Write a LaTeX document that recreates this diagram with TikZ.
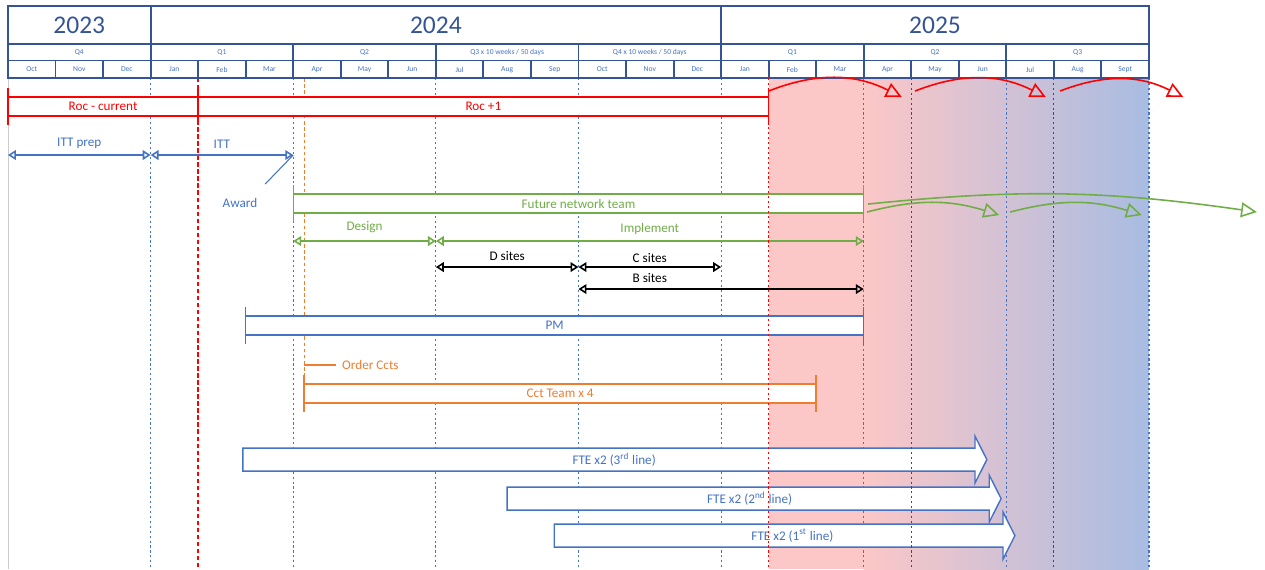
\documentclass[tikz,border=0pt]{standalone}
\usepackage{fontspec}
\setmainfont{Carlito}
\usepackage{xcolor}
\usepackage{tikz}
\usetikzlibrary{arrows.meta}

\definecolor{hdrblue}{RGB}{52,84,150}
\definecolor{tblue}{RGB}{68,114,196}
\definecolor{rocred}{RGB}{255,0,0}
\definecolor{fntgreen}{RGB}{112,173,71}
\definecolor{cctorange}{RGB}{237,125,49}
\definecolor{shpink}{RGB}{252,199,199}
\definecolor{shblue}{RGB}{168,188,226}

\begin{document}
\begin{tikzpicture}[x=0.9508cm,y=-0.02cm,
        lbl/.style={font=\fontsize{7.5}{9}\selectfont},
        hdrtxt/.style={font=\fontsize{4.3}{5}\selectfont,text=tblue},
        hdr/.style={draw=hdrblue,line width=1.1pt},
        vline/.style={line width=0.6pt,dash pattern=on 1.2pt off 1.6pt},
        bar/.style={line width=0.8pt,fill=white},
        span/.style={line width=0.9pt,{Triangle[open,length=4.5pt,width=5.5pt]}-{Triangle[open,length=4.5pt,width=5.5pt]}},
        roll/.style={line width=0.9pt,-{Triangle[open,length=9pt,width=8.5pt]}}]
        \useasboundingbox (-0.168,0) rectangle (26.441,569);

        \fill[shpink] (16,78) rectangle (18,569);
        \shade[left color=shpink,right color=shblue] (18,78) rectangle (24,569);
        \draw[black!20] (0,78) -- (0,569);
        \foreach \m in {3,6,...,24}
            \draw[vline,tblue] (\m,78) -- (\m,569);
        \draw[vline,cctorange,dash pattern=on 2pt off 1.5pt] (6.23,78) -- (6.23,375);
        \draw[rocred,line width=0.9pt,dash pattern=on 2.5pt off 1.5pt] (4,78) -- (4,569);

        % header
        \foreach \a/\b/\yr in {0/3/2023,3/15/2024,15/24/2025}{
            \draw[hdr] (\a,6) rectangle (\b,44);
            \node[font=\fontsize{14.5}{17}\selectfont,text=hdrblue] (y\yr) at ({(\a+\b)/2},25.5) {\yr};
        }
        \foreach \q [count=\i from 0] in {Q4,Q1,Q2,Q3 x 10 weeks / 50 days,Q4 x 10 weeks / 50 days,Q1,Q2,Q3}{
            \draw[hdr] (3*\i,44) rectangle (3*\i+3,60.5);
            \node[hdrtxt] (q\i) at (3*\i+1.5,52.5) {\q};
        }
        \foreach \mo [count=\i from 0] in {Oct,Nov,Dec,Jan,Feb,Mar,Apr,May,Jun,Jul,Aug,Sep,Oct,Nov,Dec,Jan,Feb,Mar,Apr,May,Jun,Jul,Aug,Sept}{
            \draw[hdr] (\i,60.5) rectangle (\i+1,78);
            \node[hdrtxt] (mo\i) at (\i+0.5,69.5) {\mo};
        }

        % bars
        \foreach \a/\b/\t/\c/\txt/\n in {0/4/97/rocred/Roc - current/roc0,4/16/97/rocred/Roc +1/roc1,6/18/194/fntgreen/Future network team/fnt,5/18/316/tblue/PM/pm,6.23/17/384/cctorange/Cct Team x 4/cct}{
            \draw[bar,draw=\c] (\a,\t) rectangle (\b,\t+19);
            \draw[line width=0.8pt,draw=\c] (\a,\t-9) -- (\a,\t+28) (\b,\t-9) -- (\b,\t+28);
            \node[lbl,text=\c] (\n) at ({(\a+\b)/2},\t+9.5) {\txt};
        }

        \coordinate (ittA) at (0,155);
        \coordinate (ittB) at (3,155);
        \coordinate (ittC) at (6,155);
        \draw[span,tblue] (ittA) -- node[lbl,above] (ittprep) {ITT prep} (ittB);
        \draw[span,tblue] (ittB) -- node[lbl,above] (itt) {ITT} (ittC);
        \node[lbl,text=tblue] (award) at (4.88,203) {Award};
        \coordinate (awardTail) at (5.41,184);
        \draw[tblue,line width=0.6pt] (awardTail) -- (ittC);

        \coordinate (dsA) at (6,241);
        \coordinate (dsB) at (9,241);
        \coordinate (dsC) at (18,241);
        \draw[span,fntgreen] (dsA) -- node[lbl,above=1pt] (design) {Design} (dsB);
        \draw[span,fntgreen] (dsB) -- node[lbl,above=0pt] (impl) {Implement} (dsC);
        \coordinate (stA) at (9,267);
        \coordinate (stB) at (12,267);
        \coordinate (stC) at (15,267);
        \draw[span] (stA) -- node[lbl,above] (dsites) {D sites} (stB);
        \draw[span] (stB) -- node[lbl,above=-1pt] (csites) {C sites} (stC);
        \coordinate (bsA) at (12,289);
        \coordinate (bsB) at (18,289);
        \draw[span] (bsA) -- (bsB);
        \node[lbl] (bsites) at (13.5,278) {B sites};

        \node[lbl,text=cctorange,anchor=west] (order) at (6.9,365) {Order Ccts};
        \coordinate (orderTail) at (6.23,365);
        \draw[cctorange,line width=0.8pt] (orderTail) -- (order.west);

        % staff
        \foreach \a/\h/\p/\t/\x/\txt/\n in {4.94/20.34/20.59/448/12.75/{FTE x2 (3\textsuperscript{rd} line)}/fte3,10.5/20.64/20.89/487/15.6/{FTE x2 (2\textsuperscript{nd} line)}/fte2,11.49/20.93/21.18/524/16.5/{FTE x2 (1\textsuperscript{st} line)}/fte1}{
            \draw[tblue,line width=0.8pt,fill=white] (\a,\t) -- (\h,\t) -- (\h,\t-12) -- (\p,\t+11.5) -- (\h,\t+35) -- (\h,\t+23) -- (\a,\t+23) -- cycle;
            \node[lbl,text=tblue] (\n) at (\x,\t+11.5) {\txt};
        }

        \foreach \m in {16,19,22}
            \draw[vline,rocred] (\m,78) -- (\m,569);

        % roll-over arrows
        \foreach \s/\e [count=\k] in {16/18.8,19.08/21.83,22.13/24.72}{
            \coordinate (rs\k) at (\s,91);
            \coordinate (re\k) at (\e,97);
            \draw[roll,rocred] (rs\k) to[bend left=24] (re\k);
        }
        \coordinate (gs0) at (18.09,204);
        \coordinate (ge0) at (26.27,212);
        \draw[roll,fntgreen] (gs0) to[bend left=7] (ge0);
        \foreach \s/\e [count=\k] in {18.07/20.85,21.08/23.85}{
            \coordinate (gs\k) at (\s,212);
            \coordinate (ge\k) at (\e,215);
            \draw[roll,fntgreen] (gs\k) to[bend left=16] (ge\k);
        }
    \end{tikzpicture}
\end{document}
